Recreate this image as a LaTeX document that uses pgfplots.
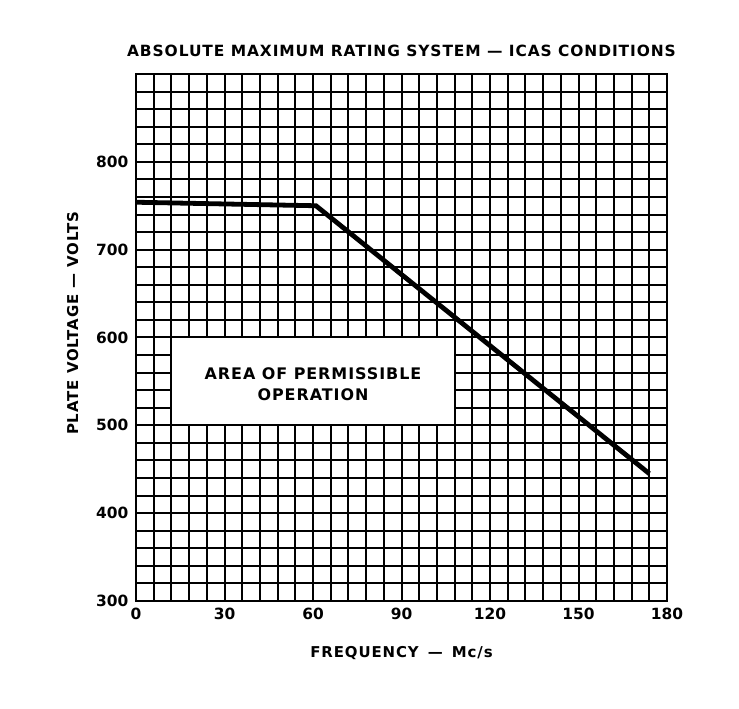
\documentclass[border=0pt]{standalone}
\usepackage{pgfplots}
\pgfplotsset{compat=1.18}
\usepackage{fontspec}
\setmainfont{DejaVu Sans}
\newfontfamily\spaced[LetterSpace=6]{DejaVu Sans}
\begin{document}
\begin{tikzpicture}
\useasboundingbox (0,0) rectangle (739bp,709bp);
\begin{axis}[
    at={(136bp,108bp)}, anchor=south west,
    scale only axis, width=531bp, height=527bp,
    xmin=0, xmax=180, ymin=300, ymax=900,
    xtick={0,30,...,180}, ytick={300,400,...,800},
    minor xtick={0,6,...,180}, minor ytick={300,320,...,900},
    grid=both,
    major grid style={black, line width=2bp},
    minor grid style={black, line width=2bp},
    axis line style={black, line width=2.8bp},
    major tick length=0pt, minor tick length=0pt,
    tick style={draw=none},
    ticklabel style={font=\fontsize{15.5}{15.5}\selectfont\bfseries},
    xticklabel style={yshift=-4bp},
    yticklabel style={xshift=-4bp},
    /pgf/number format/assume math mode=true,
    title={ABSOLUTE MAXIMUM RATING SYSTEM — ICAS CONDITIONS},
    title style={font=\spaced\fontsize{15.5}{15.5}\selectfont\bfseries, at={(0.5,1.032)}, anchor=center},
    xlabel={FREQUENCY\hspace{0.2em} —\hspace{0.2em} Mc/s},
    xlabel style={font=\spaced\fontsize{15}{15}\selectfont\bfseries, at={(0.5,-0.099)}, anchor=center},
    ylabel={PLATE VOLTAGE — VOLTS},
    ylabel style={font=\spaced\fontsize{15}{15}\selectfont\bfseries, at={(-0.119,0.527)}, anchor=center},
]
    \addplot[fill=white, draw=black, line width=2bp] coordinates {
        (12,500) (108,500) (108,600) (12,600) (12,500)
    };
    \node[align=center, font=\spaced\fontsize{16}{21}\selectfont\bfseries] at (axis cs:60,547)
        {AREA OF PERMISSIBLE\\OPERATION};
    \addplot[black, line width=4.8bp] coordinates {
        (0,754) (61,750) (174,445)
    };
\end{axis}
\end{tikzpicture}
\end{document}
